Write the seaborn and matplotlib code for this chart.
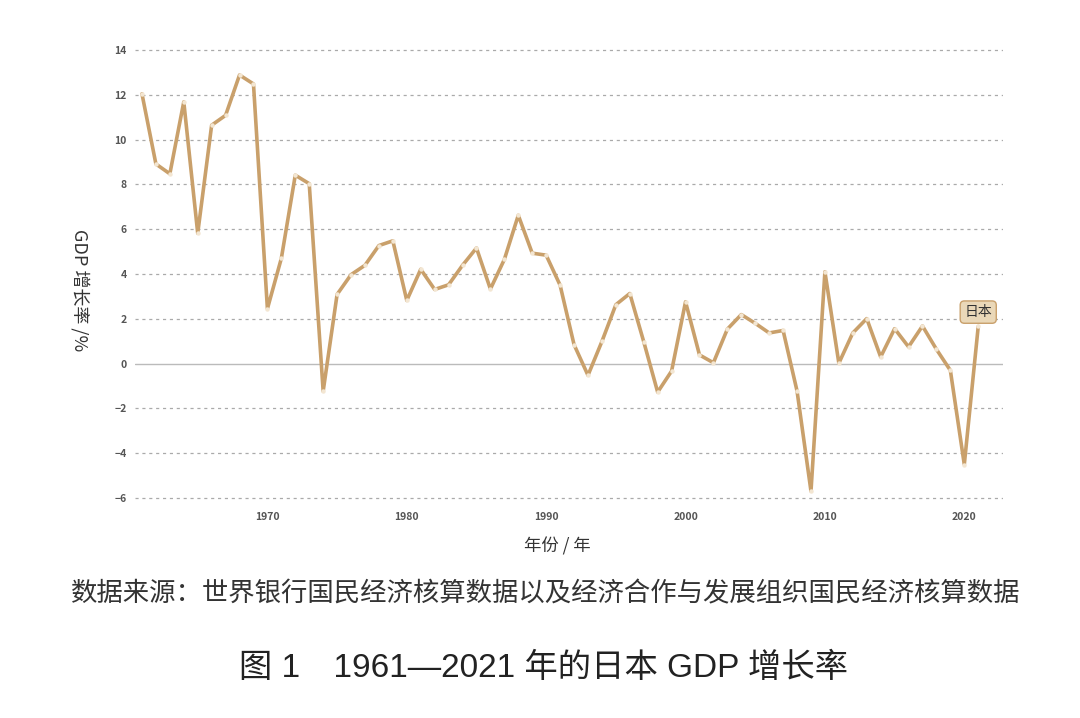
import pandas as pd
import matplotlib
matplotlib.use("Agg")
import matplotlib.pyplot as plt
import seaborn as sns

# 日本 GDP 增长率
years = list(range(1961, 2022))
growth = [
    12.04, 8.91, 8.47, 11.68, 5.82, 10.64, 11.08, 12.88, 12.48, 2.45,
    4.70, 8.41, 8.03, -1.23, 3.09, 3.97, 4.39, 5.27, 5.48, 2.82,
    4.21, 3.31, 3.52, 4.39, 5.16, 3.33, 4.65, 6.62, 4.93, 4.84,
    3.50, 0.85, -0.52, 0.99, 2.63, 3.13, 0.98, -1.27, -0.33, 2.76,
    0.39, 0.04, 1.54, 2.19, 1.80, 1.37, 1.48, -1.22, -5.69, 4.10,
    0.02, 1.37, 2.01, 0.30, 1.56, 0.75, 1.68, 0.64, -0.30, -4.50,
    1.66,
]
xticks = [1970, 1980, 1990, 2000, 2010, 2020]
yticks = [-6, -4, -2, 0, 2, 4, 6, 8, 10, 12, 14]

df = pd.DataFrame({"year": years, "growth": growth})

sns.set_style("white")
plt.rcParams["font.family"] = ["Noto Sans CJK SC", "DejaVu Sans"]

line_color = "#c9a06b"
latin_cjk = ["Liberation Sans", "Noto Sans CJK SC"]

fig = plt.figure(figsize=(10.8, 7.18), dpi=100)
ax = fig.add_axes([0.125, 0.300, 0.804, 0.643])

# 网格线
for v in yticks:
    if v == 0:
        ax.axhline(v, color="#bbbbbb", lw=1.0, zorder=1)
    else:
        ax.axhline(v, color="#aaaaaa", lw=0.9, ls=(0, (2.5, 3)), zorder=1)

sns.lineplot(data=df, x="year", y="growth", ax=ax, color=line_color, lw=2.6,
             marker="o", markersize=3.2, markerfacecolor="#f3e6d2",
             markeredgewidth=0, zorder=3)

ax.set_xlim(1960.5, 2022.8)
ax.set_ylim(-6.2, 14.4)
ax.set_xticks(xticks)
ax.set_yticks(yticks)
ax.tick_params(axis="x", length=3, width=0.6, color="#888888", labelsize=7.5,
               labelcolor="#555555", pad=4)
ax.tick_params(axis="y", length=0, labelsize=7.5, labelcolor="#555555", pad=6)
for lab in ax.get_xticklabels() + ax.get_yticklabels():
    lab.set_fontweight("bold")
for s in ax.spines.values():
    s.set_visible(False)

ax.set_xlabel("年份 / 年", fontsize=12.5, color="#333333", fontweight="medium")
ax.xaxis.set_label_coords(0.486, -0.075)
ax.set_ylabel("GDP 增长率 /%", fontsize=13, color="#333333", rotation=270,
              va="center", ha="center", fontweight="medium")
ax.yaxis.set_label_coords(-0.063, 0.46)

# 系列标签
ax.annotate("日本", xy=(years[-1], growth[-1]), xytext=(years[-1], 2.3),
            ha="center", va="center", fontsize=10, color="#333333",
            bbox=dict(boxstyle="round,pad=0.3", fc="#ead8b8", ec="#c9a06b", lw=1),
            zorder=5)

fig.text(0.505, 0.173, "数据来源：世界银行国民经济核算数据以及经济合作与发展组织国民经济核算数据",
         ha="center", va="center", fontsize=19, color="#333333")
fig.text(0.503, 0.069, "图 1　1961—2021 年的日本 GDP 增长率",
         ha="center", va="center", fontsize=24, color="#222222",
         family=latin_cjk, fontweight="medium")

fig.savefig("out.png", dpi=100)
